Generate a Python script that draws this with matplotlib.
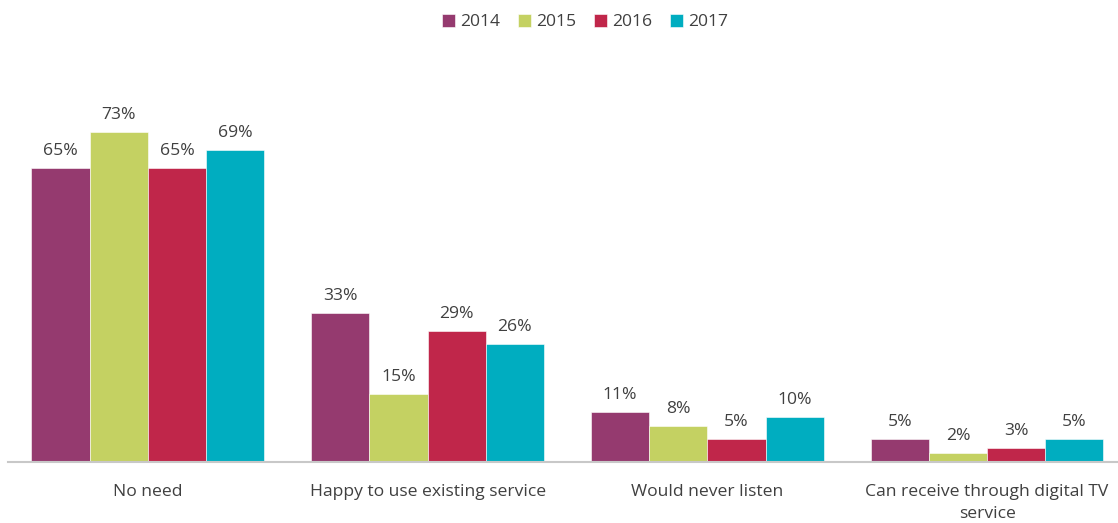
import matplotlib.pyplot as plt
import numpy as np

plt.rcParams['font.family'] = ['Open Sans', 'DejaVu Sans']

categories = ["No need", "Happy to use existing service", "Would never listen",
              "Can receive through digital TV\nservice"]
years = ["2014", "2015", "2016", "2017"]
values = {
    "2014": [65, 33, 11, 5],
    "2015": [73, 15, 8, 2],
    "2016": [65, 29, 5, 3],
    "2017": [69, 26, 10, 5],
}
colors = ["#953a6f", "#c4d162", "#c0264a", "#00adc0"]

W, H = 1118, 523
fig = plt.figure(figsize=(W / 100, H / 100), dpi=100)
left, right, bottom, top = 8, 1118, 462, 100
ax = fig.add_axes([left / W, (H - bottom) / H, (right - left) / W, (bottom - top) / H])

x = np.arange(len(categories))
bw = 0.208
txt = "#404040"
fs = 12.6
for i, y in enumerate(years):
    pos = x + (i - 1.5) * bw
    ax.bar(pos, values[y], bw, color=colors[i], label=y, edgecolor="white", linewidth=0.4)
    for p, v in zip(pos, values[y]):
        ax.text(p, v + 2.0, f"{v}%", ha="center", va="bottom", fontsize=fs, color=txt)

ax.set_xlim(-0.5, 3.468)
ax.set_ylim(0, 80)
ax.set_xticks(x)
ax.set_xticklabels(categories, fontsize=fs, color=txt, linespacing=1.5)
ax.tick_params(axis="x", length=0, pad=16)
ax.set_yticks([])
for s in ["top", "right", "left"]:
    ax.spines[s].set_visible(False)
ax.spines["bottom"].set_color("#c8c8c8")
ax.spines["bottom"].set_linewidth(1.5)

fig.legend(loc="center", bbox_to_anchor=(585 / W, 1 - 22 / H), ncol=4, frameon=False,
           fontsize=12.6, handlelength=0.75, handleheight=0.75, handletextpad=0.3,
           columnspacing=1.0, labelcolor=txt)

fig.savefig("out.png", dpi=100)
